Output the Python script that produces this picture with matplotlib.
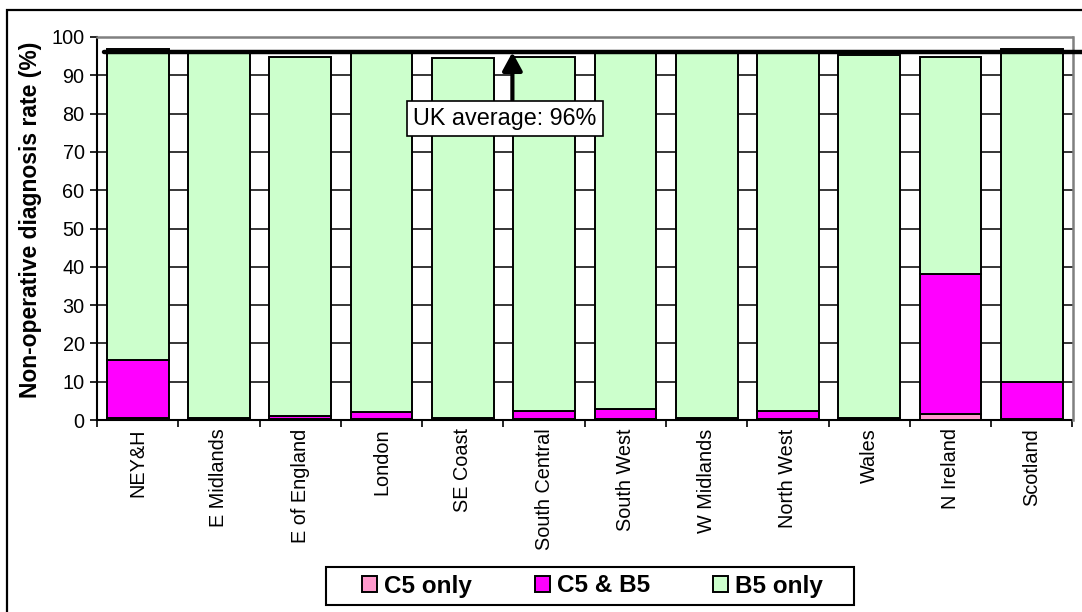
import matplotlib
matplotlib.use("Agg")
import matplotlib.pyplot as plt
from matplotlib.patches import Rectangle
import numpy as np

plt.rcParams['font.family'] = ['Liberation Sans', 'DejaVu Sans']

regions = ["NEY&H", "E Midlands", "E of England", "London", "SE Coast",
           "South Central", "South West", "W Midlands", "North West",
           "Wales", "N Ireland", "Scotland"]
c5_only = [0.4, 0.2, 0.3, 0.3, 0.2, 0.3, 0.3, 0.2, 0.3, 0.2, 1.5, 0.3]
c5_and_b5 = [15.2, 0.2, 0.8, 1.8, 0.2, 2.1, 2.6, 0.2, 2.1, 0.2, 36.6, 9.7]
b5_only = [81.3, 95.8, 93.8, 94.1, 94.0, 92.5, 93.1, 95.6, 93.9, 94.9, 56.8, 86.9]
uk_average = 96
series_names = ["C5 only", "C5 & B5", "B5 only"]
series_colors = ["#FF99CC", "#FF00FF", "#CCFFCC"]

W, H = 1082, 612
fig = plt.figure(figsize=(W / 100, H / 100), dpi=100)
ax = fig.add_axes([97 / W, 1 - 420 / H, (1072.5 - 97) / W, (420 - 37) / H])

x = np.arange(len(regions))
bottom = np.zeros(len(regions))
for vals, name, col in zip([c5_only, c5_and_b5, b5_only], series_names, series_colors):
    ax.bar(x, vals, bottom=bottom, width=0.76, color=col, edgecolor="black",
           linewidth=1.4, label=name, zorder=3)
    bottom += np.array(vals)

ax.set_xlim(-0.5, len(regions) - 0.5)
ax.set_ylim(0, 100)
ax.set_yticks(np.arange(0, 101, 10))
ax.yaxis.grid(True, color="black", linewidth=1.1, zorder=0)
ax.set_axisbelow(True)

# category ticks sit on the boundaries, labels at the centres
ax.set_xticks(np.arange(-0.5, len(regions), 1.0))
ax.set_xticklabels([])
ax.set_xticks(x, minor=True)
ax.set_xticklabels(regions, minor=True, rotation=90, fontsize=14.3, va="top")
ax.tick_params(axis="x", which="minor", length=0, pad=6)
ax.tick_params(axis="x", which="major", length=5, width=1.2, direction="out")
ax.tick_params(axis="y", length=5, width=1.2, direction="out", labelsize=14.3, pad=4)

for side in ("top", "right"):
    ax.spines[side].set_color("#808080")
    ax.spines[side].set_linewidth(1.8)
    ax.spines[side].set_zorder(5)
for side in ("left", "bottom"):
    ax.spines[side].set_color("black")
    ax.spines[side].set_linewidth(1.5)

ax.set_ylabel("Non-operative diagnosis rate (%)", fontsize=16.5, fontweight="bold")
ax.yaxis.set_label_coords(-(97 - 42) / (1072.5 - 97), 0.522)

# UK average reference line
ax.plot([-0.41, 11.66], [uk_average, uk_average], color="black", linewidth=3.2,
        solid_capstyle="round", clip_on=False, zorder=6)

ax.annotate("", xy=(4.61, uk_average), xytext=(4.61, 83.5),
            arrowprops=dict(arrowstyle="-|>,head_length=0.55,head_width=0.3",
                            color="black", lw=3, mutation_scale=20,
                            shrinkA=0, shrinkB=0),
            zorder=7)
ax.text(4.52, 78.7, f"UK average: {uk_average}%", fontsize=16.8, ha="center",
        va="center", zorder=8,
        bbox=dict(boxstyle="square,pad=0.26", facecolor="white",
                  edgecolor="black", linewidth=1.2))

# legend box below the category labels
fig.patches.append(Rectangle((326 / W, 1 - 605 / H), (854 - 326) / W, 38 / H,
                             transform=fig.transFigure, facecolor="white",
                             edgecolor="black", linewidth=1.5))
leg = fig.legend(loc="center", bbox_to_anchor=(592.5 / W, 1 - 586 / H), ncol=3,
                 prop=dict(size=17.5, weight="bold"), frameon=False,
                 handlelength=0.62, handleheight=0.62,
                 handletextpad=0.29, columnspacing=2.6, borderpad=0.2)

# outer chart border
fig.patches.append(Rectangle((7 / W, -0.1), 1.2, 1.1 - 10 / H,
                             transform=fig.transFigure, fill=False,
                             edgecolor="black", linewidth=1.6))

fig.savefig("out.png", dpi=100)
